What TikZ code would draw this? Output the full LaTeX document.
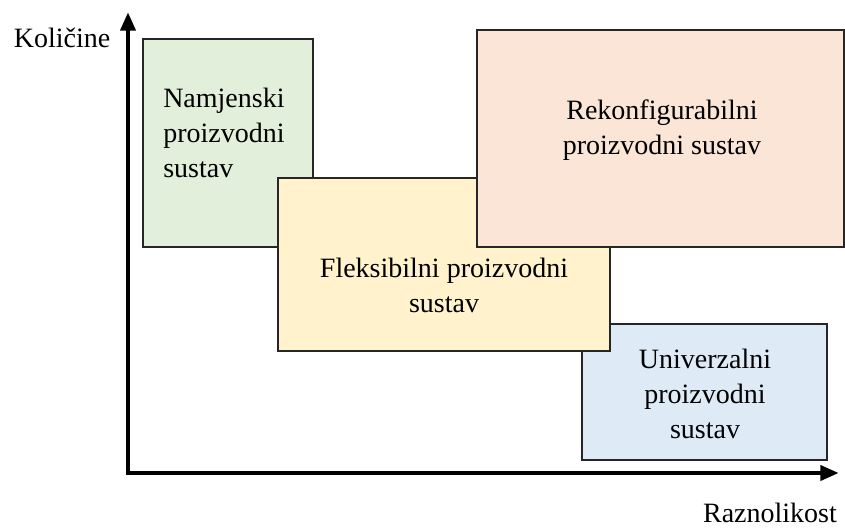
\documentclass[tikz,border=0pt]{standalone}
\usepackage{fontspec}
\setmainfont{Liberation Serif}
\usetikzlibrary{arrows.meta}
\definecolor{boxgreen}{HTML}{E2EFDA}
\definecolor{boxyellow}{HTML}{FFF2CC}
\definecolor{boxpink}{HTML}{FBE5D6}
\definecolor{boxblue}{HTML}{DEEBF7}

\begin{document}
\begin{tikzpicture}[x=0.75pt,y=-0.75pt,font=\fontsize{21pt}{26.25pt}\selectfont,
	axis/.style={line width=3.5pt,{Triangle[length=14pt,width=11pt]}-{Triangle[length=14pt,width=11pt]}},
	sysbox/.style={rectangle,draw=black!85,line width=1.3pt,inner sep=0pt},
	boxtext/.style={align=center,inner sep=0pt}]
	
	\useasboundingbox (0,0) rectangle (845,530);
	
	% axes
	\coordinate (ytip) at (128,12);
	\coordinate (origin) at (128,473);
	\coordinate (xtip) at (839,473);
	\draw[axis] (ytip) -- (origin) -- (xtip);
	\node (kolicine) at (62,38) {Količine};
	\node (raznolikost) at (770,513) {Raznolikost};
	
	% systems
	\node[sysbox,fill=boxgreen,minimum width=127.5pt,minimum height=156pt] (namjenski) at (228,143) {};
	\node[sysbox,fill=boxblue,minimum width=183.75pt,minimum height=102pt] (univerzalni) at (704.5,392) {};
	\node[sysbox,fill=boxyellow,minimum width=249pt,minimum height=129.75pt] (fleksibilni) at (444,264.5) {};
	\node[sysbox,fill=boxpink,minimum width=275.25pt,minimum height=162.75pt] (rekonfig) at (660.5,138.5) {};
	
	\node[boxtext,align=left,anchor=west] (namjenskitxt) at (163,133) {Namjenski\\proizvodni\\sustav};
	\node[boxtext] (fleksibilnitxt) at (444,285) {Fleksibilni proizvodni\\sustav};
	\node[boxtext] (rekonfigtxt) at (662,130) {Rekonfigurabilni\\proizvodni sustav};
	\node[boxtext] (univerzalnitxt) at (705,394) {Univerzalni\\proizvodni\\sustav};
	
\end{tikzpicture}
\end{document}
